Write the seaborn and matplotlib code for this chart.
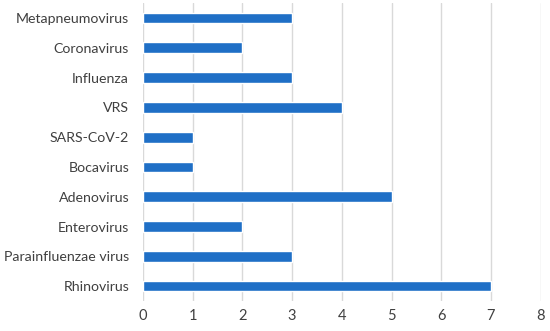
import matplotlib
matplotlib.use("Agg")
import pandas as pd
import matplotlib.pyplot as plt
import seaborn as sns

viruses = ["Metapneumovirus", "Coronavirus", "Influenza", "VRS", "SARS-CoV-2",
           "Bocavirus", "Adenovirus", "Enterovirus", "Parainfluenzae virus", "Rhinovirus"]
counts = [3, 2, 3, 4, 1, 1, 5, 2, 3, 7]
xticks = [0, 1, 2, 3, 4, 5, 6, 7, 8]

df = pd.DataFrame({"virus": viruses, "count": counts})

sns.set_style("white")
plt.rcParams["font.family"] = ["Lato", "DejaVu Sans"]

fig = plt.figure(figsize=(5.5, 3.31), dpi=100)
ax = fig.add_axes([0.26, 0.0906, 0.723, 0.9])

sns.barplot(data=df, y="virus", x="count", orient="h", color="#1f6fc6",
            width=0.36, saturation=1, ax=ax)

ax.set_xlim(0, 8)
ax.set_ylim(9.5, -0.5)
ax.set_xticks(xticks)
ax.xaxis.grid(True, color="#d9d9d9", linewidth=1)
ax.set_axisbelow(True)
for s in ax.spines.values():
    s.set_visible(False)
ax.set_xlabel("")
ax.set_ylabel("")
ax.tick_params(axis="x", labelsize=10.5, length=0, pad=6)
ax.tick_params(axis="y", labelsize=10.2, length=0, pad=10)
for lbl in ax.get_xticklabels() + ax.get_yticklabels():
    lbl.set_color("#404040")

fig.savefig("out.png", dpi=100)
